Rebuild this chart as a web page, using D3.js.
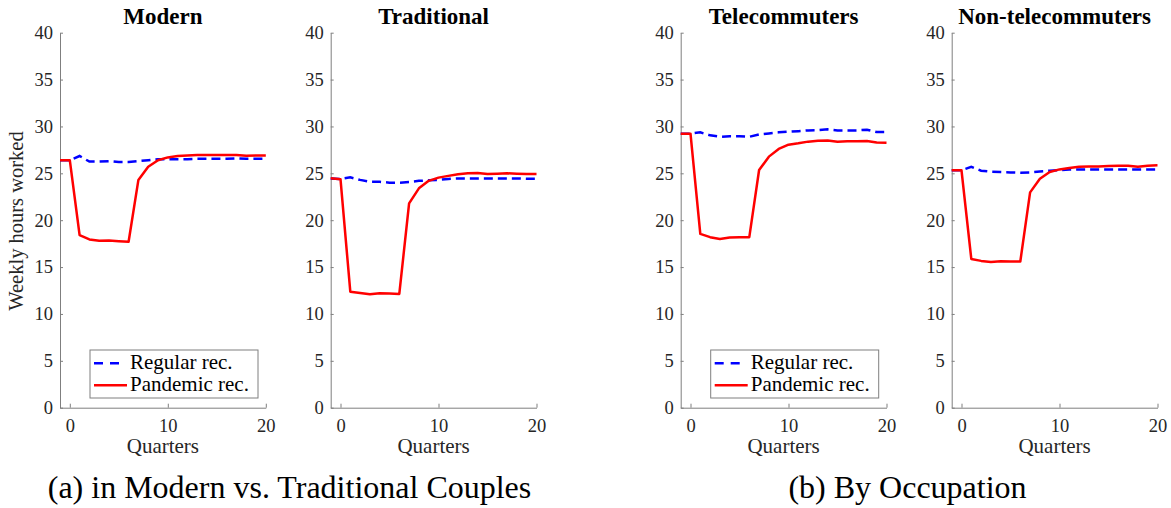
<!DOCTYPE html>
<html>
<head>
<meta charset="utf-8">
<script src="https://cdn.jsdelivr.net/npm/d3@7"></script>
<style>
  html, body { margin: 0; padding: 0; background: #fff; }
  svg { display: block; }
  text { font-family: "Liberation Serif", "Times New Roman", serif; }
</style>
</head>
<body>
<svg id="chart" width="1171" height="508"></svg>
<script>
// ---------------- data ----------------
const quarters = [-1, 0, 1, 2, 3, 4, 5, 6, 7, 8, 9, 10, 11, 12, 13, 14, 15, 16, 17, 18, 19, 20];
const panelTitles = ["Modern", "Traditional", "Telecommuters", "Non-telecommuters"];
const seriesNames = ["Regular rec.", "Pandemic rec."];
const yTicks = [0, 5, 10, 15, 20, 25, 30, 35, 40];
const xTicks = [0, 10, 20];
const captions = ["(a) in Modern vs. Traditional Couples", "(b) By Occupation"];

const modernRegular = [26.4, 26.4, 26.85, 26.25, 26.25, 26.3, 26.2, 26.2, 26.3, 26.4, 26.5, 26.5, 26.5, 26.5, 26.55, 26.55, 26.55, 26.55, 26.6, 26.55, 26.55, 26.55];
const modernPandemic = [26.4, 26.4, 18.4, 17.95, 17.8, 17.83, 17.76, 17.7, 24.3, 25.7, 26.4, 26.7, 26.85, 26.9, 26.95, 26.95, 26.95, 26.95, 26.95, 26.88, 26.9, 26.9];

const tradRegular = [24.45, 24.4, 24.57, 24.3, 24.1, 24.1, 24.0, 24.0, 24.07, 24.2, 24.25, 24.3, 24.4, 24.45, 24.45, 24.45, 24.45, 24.45, 24.45, 24.45, 24.42, 24.42];
const tradPandemic = [24.47, 24.38, 12.38, 12.24, 12.1, 12.2, 12.17, 12.13, 21.8, 23.4, 24.2, 24.54, 24.73, 24.9, 25.0, 25.03, 24.93, 24.96, 25.0, 24.96, 24.93, 24.93];

const teleRegular = [29.23, 29.23, 29.37, 29.05, 28.9, 28.95, 28.95, 28.9, 29.15, 29.26, 29.37, 29.44, 29.5, 29.58, 29.6, 29.69, 29.58, 29.58, 29.58, 29.65, 29.4, 29.4];
const telePandemic = [29.23, 29.23, 18.54, 18.19, 18.0, 18.15, 18.19, 18.19, 25.35, 26.78, 27.6, 28.06, 28.2, 28.38, 28.48, 28.5, 28.38, 28.41, 28.41, 28.45, 28.3, 28.27];

const nonTeleRegular = [25.32, 25.32, 25.7, 25.28, 25.18, 25.14, 25.1, 25.07, 25.1, 25.2, 25.28, 25.35, 25.4, 25.42, 25.42, 25.42, 25.42, 25.42, 25.42, 25.42, 25.42, 25.42];
const nonTelePandemic = [25.32, 25.32, 15.87, 15.66, 15.55, 15.62, 15.59, 15.59, 22.97, 24.43, 25.14, 25.42, 25.57, 25.71, 25.74, 25.74, 25.78, 25.82, 25.82, 25.71, 25.82, 25.85];

const regularSeries = [modernRegular, tradRegular, teleRegular, nonTeleRegular];
const pandemicSeries = [modernPandemic, tradPandemic, telePandemic, nonTelePandemic];

// ---------------- layout ----------------
const svg = d3.select("#chart");
const panelLeft = [60, 330.7, 680.7, 951.7];
const plotW = 205.8, yTop = 32.7, yBottom = 407.7;
const showLegend = [true, false, true, false];
const BLUE = "#0000ff", RED = "#ff0000";
const AXIS = "#7f7f7f", TXT = "#262626";

const y = d3.scaleLinear().domain([0, 40]).range([yBottom, yTop]);

panelTitles.forEach((title, i) => {
  const x0 = panelLeft[i];
  const x = d3.scaleLinear().domain([-1, 20]).range([x0, x0 + plotW]);
  const g = svg.append("g");

  // axes
  const yAxis = d3.axisLeft(y).tickValues(yTicks).tickSizeInner(-3).tickSizeOuter(0).tickPadding(7);
  const ya = g.append("g").attr("transform", `translate(${x0},0)`).call(yAxis);
  const xAxis = d3.axisBottom(x).tickValues(xTicks).tickSizeInner(-4).tickSizeOuter(0).tickPadding(11);
  const xa = g.append("g").attr("transform", `translate(0,${yBottom})`).call(xAxis);
  [ya, xa].forEach(a => {
    a.select(".domain").attr("stroke", AXIS).attr("stroke-width", 1);
    a.selectAll(".tick line").attr("stroke", AXIS);
    a.selectAll(".tick text").attr("fill", TXT).style("font-size", "18.5px")
      .style("font-family", '"Liberation Serif", serif');
  });

  // lines
  const line = d3.line().x((d, k) => x(quarters[k])).y(d => y(d));
  g.append("path").datum(regularSeries[i]).attr("d", line)
    .attr("fill", "none").attr("stroke", BLUE).attr("stroke-width", 2.5)
    .attr("stroke-dasharray", "9,5");
  g.append("path").datum(pandemicSeries[i]).attr("d", line)
    .attr("fill", "none").attr("stroke", RED).attr("stroke-width", 2.5)
    .attr("stroke-linejoin", "round");

  // title
  g.append("text").attr("x", x0 + plotW / 2).attr("y", 24)
    .attr("text-anchor", "middle").attr("font-weight", "bold")
    .style("font-size", "23px").attr("fill", "#000").text(title);

  // x label
  g.append("text").attr("x", x0 + plotW / 2).attr("y", 453)
    .attr("text-anchor", "middle").style("font-size", "21px")
    .attr("fill", TXT).text("Quarters");

  // legend
  if (showLegend[i]) {
    const lg = g.append("g").attr("transform", `translate(${x0 + 30},350)`);
    lg.append("rect").attr("x", 0).attr("y", 0).attr("width", 168).attr("height", 48)
      .attr("fill", "#fff").attr("stroke", AXIS).attr("stroke-width", 1);
    const cols = [BLUE, RED];
    const dashes = ["9,7", null];
    const ends = [29, 37];
    seriesNames.forEach((name, k) => {
      const ly = 13.3 + k * 22;
      lg.append("line").attr("x1", 4).attr("x2", ends[k]).attr("y1", ly).attr("y2", ly)
        .attr("stroke", cols[k]).attr("stroke-width", 2.5)
        .attr("stroke-dasharray", dashes[k]);
      lg.append("text").attr("x", 40).attr("y", 18.5 + k * 22.5)
        .style("font-size", "21px").attr("fill", "#000").text(name);
    });
  }
});

// y label
svg.append("text").attr("transform", "translate(23,221) rotate(-90)")
  .attr("text-anchor", "middle").style("font-size", "20.5px").attr("fill", TXT)
  .text("Weekly hours worked");

// captions
const capX = [289.5, 907.5];
captions.forEach((c, i) => {
  svg.append("text").attr("x", capX[i]).attr("y", 497.5).attr("text-anchor", "middle")
    .style("font-size", "32px").attr("fill", "#000").text(c);
});
</script>
</body>
</html>
